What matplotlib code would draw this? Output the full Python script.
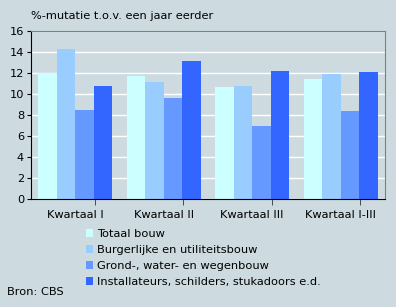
import numpy as np
import matplotlib.pyplot as plt
from matplotlib.patches import Patch

# data
kwartalen = ['Kwartaal I', 'Kwartaal II', 'Kwartaal III', 'Kwartaal I-III']
series = ['Totaal bouw', 'Burgerlijke en utiliteitsbouw',
          'Grond-, water- en wegenbouw',
          'Installateurs, schilders, stukadoors e.d.']
totaal = [12.0, 11.7, 10.7, 11.4]
burger = [14.3, 11.1, 10.8, 11.9]
grond = [8.5, 9.6, 7.0, 8.4]
install = [10.8, 13.1, 12.2, 12.1]
colors = ['#CCFFFF', '#99CCFF', '#6699FF', '#3366FF']
bg = '#CDDBE0'
fs = 8.2

fig = plt.figure(figsize=(3.96, 3.07), dpi=100, facecolor=bg)
ax = fig.add_axes([31/396, 1-199/307, 354/396, 168/307], facecolor=bg)

x = np.arange(len(kwartalen))
w = 0.21
for k, vals in enumerate([totaal, burger, grond, install]):
    ax.bar(x - 1.5*w + k*w, vals, w, color=colors[k], zorder=2)

ax.set_xlim(-0.5, 3.5)
ax.set_ylim(0, 16)
ax.set_yticks(range(0, 17, 2))
ax.yaxis.grid(True, color='white', lw=1, zorder=1)
ax.set_xticks(x)
ax.set_xticklabels(kwartalen, fontsize=fs)
ax.tick_params(axis='x', length=0, pad=8)
ax.set_xticks(x + 0.22, minor=True)
ax.tick_params(axis='x', which='minor', length=4, direction='out', color='#333333')
ax.tick_params(axis='y', labelsize=fs, length=3, direction='out', pad=2)
for s in ['top', 'right']:
    ax.spines[s].set_color('#808080')
for s in ['left', 'bottom']:
    ax.spines[s].set_color('black')

fig.text(31/396, 1-16/307, '%-mutatie t.o.v. een jaar eerder', fontsize=fs,
         va='center', ha='left')
fig.text(7/396, 1-292/307, 'Bron: CBS', fontsize=fs, va='center', ha='left')

handles = [Patch(facecolor=c, edgecolor='none') for c in colors]
fig.legend(handles, series, loc='upper left', bbox_to_anchor=(86/396, 1-229/307),
           frameon=False, fontsize=fs, handlelength=0.65, handleheight=0.65,
           handletextpad=0.3, labelspacing=0.52, borderpad=0, borderaxespad=0)

fig.savefig('out.png', dpi=100, facecolor=bg)
